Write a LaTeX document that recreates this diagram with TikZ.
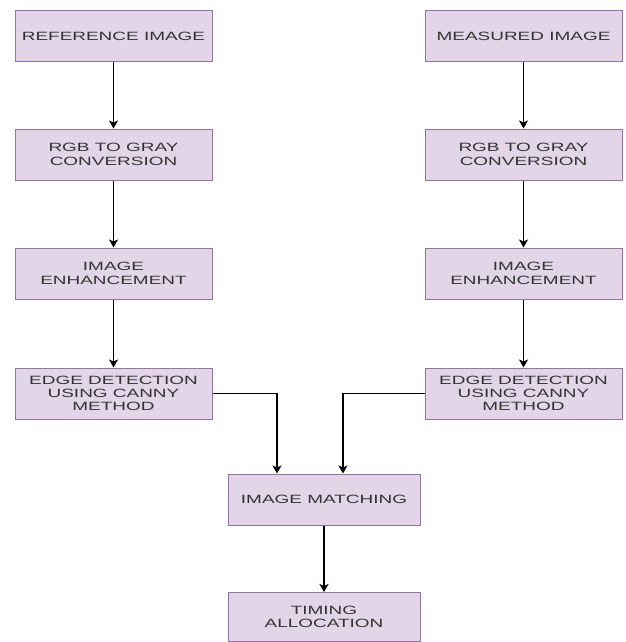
\documentclass[tikz,border=0pt]{standalone}
\usepackage{fontspec}
\setmainfont{Liberation Sans}[FakeStretch=1.58]
\usetikzlibrary{arrows.meta}
\definecolor{boxfill}{HTML}{E1D5E7}
\definecolor{boxline}{HTML}{9673A6}
\definecolor{txt}{HTML}{333333}
\tikzset{
  stepbox/.style={draw=boxline, fill=boxfill, line width=1pt, rectangle,
    minimum width=197pt, minimum height=51pt, align=center, inner sep=0pt,
    text=txt, font=\fontsize{12pt}{13.3pt}\selectfont},
  flow/.style={draw=black, line width=1.3pt, -{Stealth[length=8pt,width=9pt,inset=2pt]}}
}
\begin{document}
\begin{tikzpicture}[x=1pt,y=-1pt]
\useasboundingbox (0,0) rectangle (625,642);
\node[stepbox] (L1) at (113.5,36) {REFERENCE IMAGE};
\node[stepbox] (L2) at (113.5,154.5) {RGB TO GRAY\\CONVERSION};
\node[stepbox] (L3) at (113.5,273.5) {IMAGE\\ENHANCEMENT};
\node[stepbox] (L4) at (113.5,393.5) {EDGE DETECTION\\USING CANNY\\METHOD};
\node[stepbox] (R1) at (523.5,36) {MEASURED IMAGE};
\node[stepbox] (R2) at (523.5,154.5) {RGB TO GRAY\\CONVERSION};
\node[stepbox] (R3) at (523.5,273.5) {IMAGE\\ENHANCEMENT};
\node[stepbox] (R4) at (523.5,393.5) {EDGE DETECTION\\USING CANNY\\METHOD};
\node[stepbox, minimum width=192pt] (IM) at (324,499.5) {IMAGE MATCHING};
\node[stepbox, minimum width=192pt, minimum height=49pt] (TA) at (324,617) {TIMING\\ALLOCATION};
\draw[flow] (L1) -- (L2);
\draw[flow] (L2) -- (L3);
\draw[flow] (L3) -- (L4);
\draw[flow] (R1) -- (R2);
\draw[flow] (R2) -- (R3);
\draw[flow] (R3) -- (R4);
\draw[flow] (L4.east) -| ([xshift=-47pt]IM.north);
\draw[flow] (R4.west) -| ([xshift=19pt]IM.north);
\draw[flow] (IM) -- (TA);
\end{tikzpicture}
\end{document}
